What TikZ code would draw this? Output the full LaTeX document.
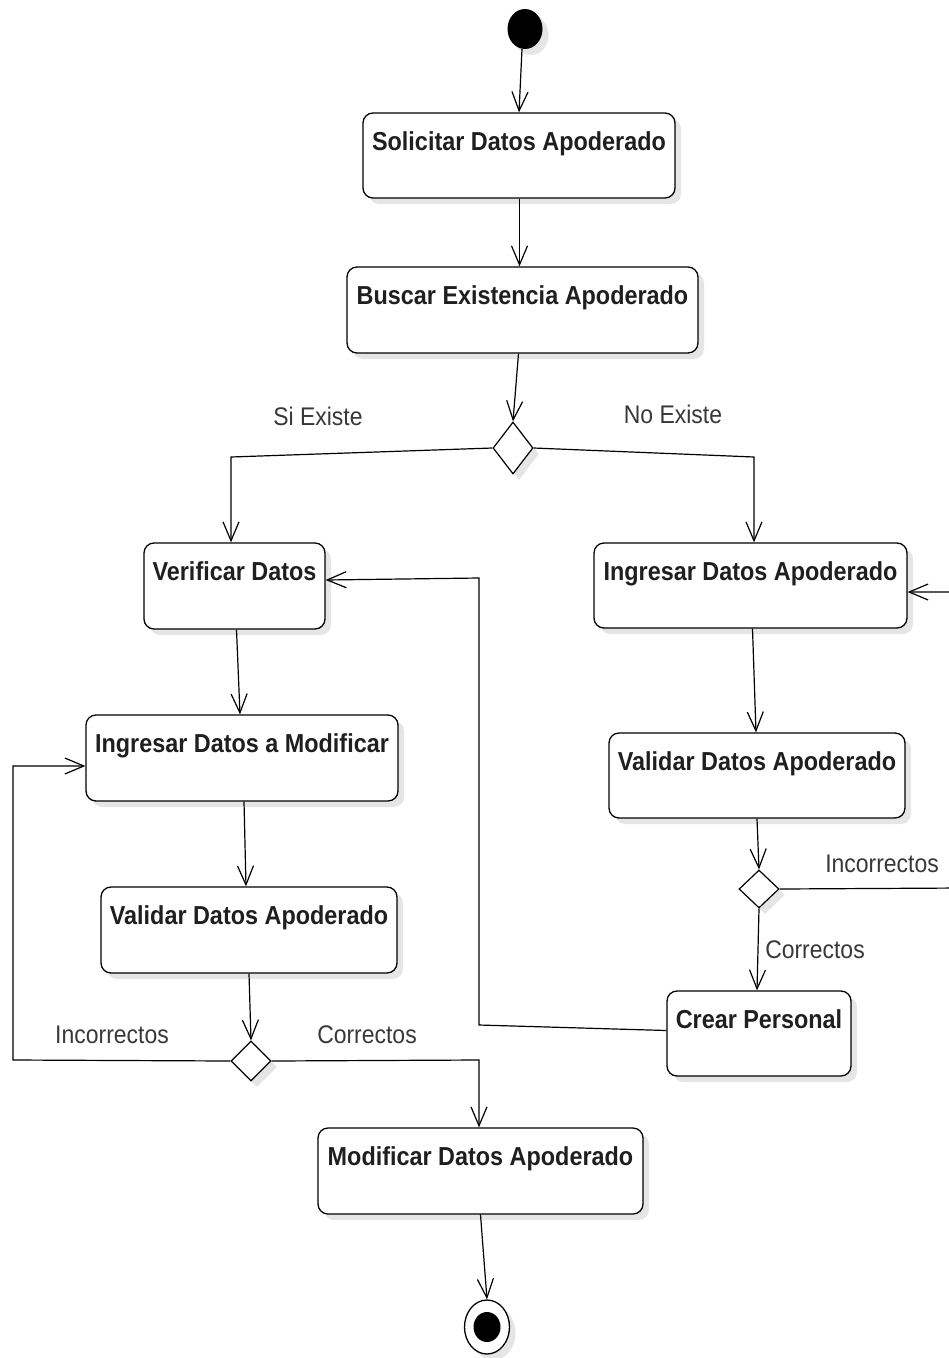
\documentclass[tikz,border=0pt]{standalone}
\usepackage{fontspec}
\setmainfont{Liberation Sans}[FakeStretch=0.90]
\usetikzlibrary{shapes.geometric,arrows.meta,shadows}
\begin{document}
\begin{tikzpicture}[x=1pt,y=-1pt,
  shad/.style={drop shadow={shadow xshift=6pt,shadow yshift=-6pt,opacity=0.10,fill=black}},
  actbox/.style={draw,line width=1.3pt,rounded corners=10pt,fill=white,minimum width=#1,inner sep=0pt,shad},
  boxtext/.style={anchor=base,font=\fontsize{26}{30}\selectfont\bfseries,text=black!88},
  decision/.style={draw,diamond,line width=1.2pt,fill=white,inner sep=0pt,shad},
  guard/.style={font=\fontsize{25.5}{30}\selectfont,text=black!78},
  flow/.style={line width=1.2pt,-{Straight Barb[length=19pt,width=16pt,line width=1.2pt]}},
  plain/.style={line width=1.2pt}]
\useasboundingbox (0,0) rectangle (949,1358);
\clip (0,0) rectangle (949,1358);
% start and end
\node[ellipse,fill=black,minimum width=35pt,minimum height=40pt,inner sep=0pt,shad] (start) at (525,29) {};
\node[ellipse,draw,line width=1.3pt,fill=white,minimum width=45pt,minimum height=54pt,inner sep=0pt,shad] (end) at (487,1327) {};
\node[ellipse,fill=black,minimum width=27pt,minimum height=30pt,inner sep=0pt] (endin) at (487,1327) {};
% activities
\node[actbox=312pt,minimum height=85pt] (s1) at (519,155.5) {};
\node[boxtext] (s1t) at ([yshift=-38pt]s1.north) {Solicitar Datos Apoderado};
\node[actbox=351pt,minimum height=86pt] (s2) at (522.5,310) {};
\node[boxtext] (s2t) at ([yshift=-38pt]s2.north) {Buscar Existencia Apoderado};
\node[decision,minimum width=40pt,minimum height=52pt] (d1) at (513,448) {};
\node[actbox=181pt,minimum height=86pt] (vd) at (234.5,586) {};
\node[boxtext] (vdt) at ([yshift=-38pt]vd.north) {Verificar Datos};
\node[actbox=312pt,minimum height=86pt] (idm) at (242,758) {};
\node[boxtext] (idmt) at ([yshift=-38pt]idm.north) {Ingresar Datos a Modificar};
\node[actbox=296pt,minimum height=86pt] (vl) at (249,930) {};
\node[boxtext] (vlt) at ([yshift=-38pt]vl.north) {Validar Datos Apoderado};
\node[decision,minimum width=40pt,minimum height=40pt] (d2) at (251,1061) {};
\node[actbox=325pt,minimum height=86pt] (mda) at (480.5,1171) {};
\node[boxtext] (mdat) at ([yshift=-38pt]mda.north) {Modificar Datos Apoderado};
\node[actbox=313pt,minimum height=85pt] (ida) at (750.5,585.5) {};
\node[boxtext] (idat) at ([yshift=-38pt]ida.north) {Ingresar Datos Apoderado};
\node[actbox=296pt,minimum height=85pt] (vr) at (757,775.5) {};
\node[boxtext] (vrt) at ([yshift=-38pt]vr.north) {Validar Datos Apoderado};
\node[decision,minimum width=40pt,minimum height=38pt] (d3) at (759,889) {};
\node[actbox=184pt,minimum height=85pt] (cp) at (759,1033.5) {};
\node[boxtext] (cpt) at ([yshift=-38pt]cp.north) {Crear Personal};
% guard labels
\node[guard] (lsi) at (318,416) {Si Existe};
\node[guard] (lno) at (673,414) {No Existe};
\node[guard] (linc1) at (112,1035) {Incorrectos};
\node[guard] (lcor1) at (367,1035) {Correctos};
\node[guard] (linc2) at (882,864) {Incorrectos};
\node[guard] (lcor2) at (815,950) {Correctos};
% bend coordinates
\coordinate (k1) at (231,457);
\coordinate (k2) at (754,457);
\coordinate (k3) at (13,1060);
\coordinate (k4) at (479,1060);
\coordinate (k5) at (962,888);
\coordinate (k6) at (479,1025);
% connectors
\draw[flow] ([xshift=-3pt]start.south) -- (s1.north);
\draw[flow] ([xshift=0.5pt]s1.south) -- ([xshift=0.5pt]s1.south |- s2.north);
\draw[flow] ([xshift=-4pt]s2.south) -- (d1.north);
\draw[flow] (d1.west) -- (k1) -- (k1 |- vd.north);
\draw[flow] (d1.east) -- (k2) -- (k2 |- ida.north);
\draw[flow] ([xshift=2pt]vd.south) -- ([xshift=-2pt]idm.north);
\draw[flow] ([xshift=2pt]idm.south) -- ([xshift=-3pt]vl.north);
\draw[flow] (vl.south) -- (d2.north);
\draw[flow] (d2.west) -- (k3) -- (k3 |- 0,766) -- (idm.west |- 0,766);
\draw[flow] (d2.east) -- (k4) -- (k4 |- mda.north);
\draw[flow] (mda.south) -- (end.north);
\draw[flow] ([xshift=2pt]ida.south) -- ([xshift=-1pt]vr.north);
\draw[flow] (vr.south) -- (d3.north);
\draw[flow] (d3.south) -- ([xshift=-2pt]cp.north);
\draw[flow] (d3.east) -- (k5) -- (k5 |- 0,592) -- (ida.east |- 0,592);
\draw[flow] ([yshift=3pt]cp.west) -- (k6) -- (k6 |- 0,578) -- (vd.east |- 0,580);
\end{tikzpicture}
\end{document}
